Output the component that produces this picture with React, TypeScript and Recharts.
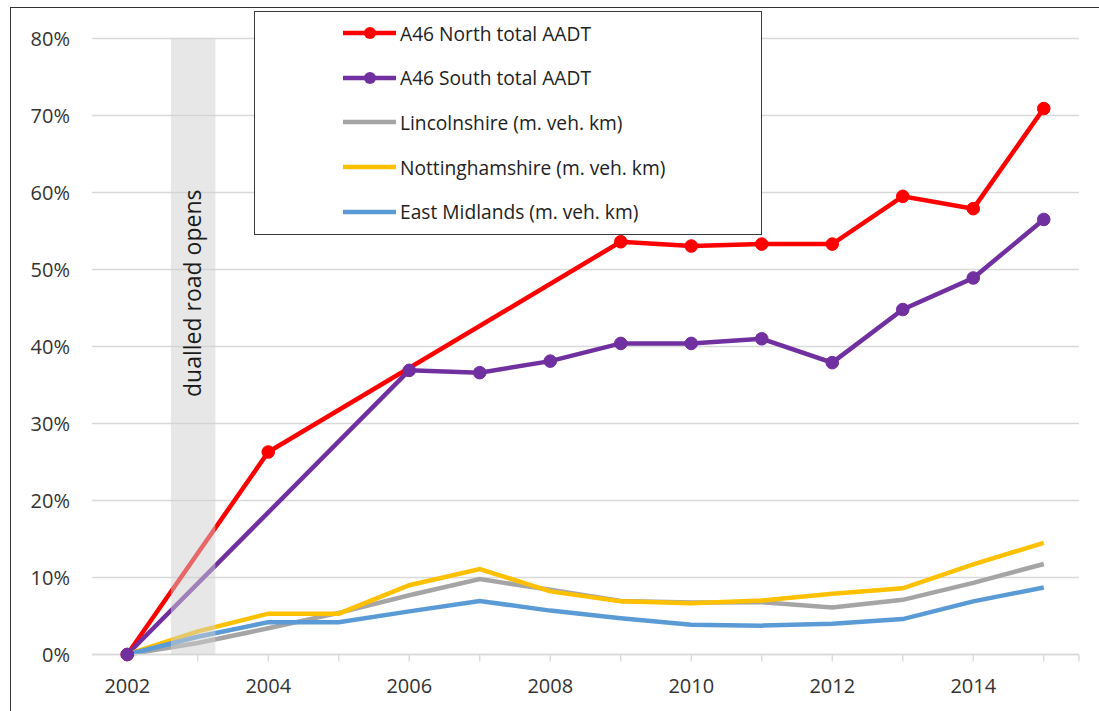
import React from 'react';
import { LineChart, Line, XAxis, YAxis, CartesianGrid, ReferenceArea, Legend } from 'recharts';

const years = [2002, 2003, 2004, 2005, 2006, 2007, 2008, 2009, 2010, 2011, 2012, 2013, 2014, 2015];
const a46North: (number | null)[] = [0, null, 26.3, null, null, null, null, 53.6, 53.05, 53.3, 53.3, 59.5, 57.9, 70.9];
const a46South: (number | null)[] = [0, null, null, null, 36.9, 36.6, 38.1, 40.4, 40.4, 41.0, 37.9, 44.8, 48.9, 56.5];
const lincolnshire = [0, 1.5, 3.4, 5.4, 7.7, 9.8, 8.4, 6.95, 6.75, 6.8, 6.1, 7.1, 9.3, 11.75];
const nottinghamshire = [0, 3.0, 5.3, 5.3, 9.0, 11.1, 8.2, 6.9, 6.65, 7.0, 7.9, 8.6, 11.7, 14.5];
const eastMidlands = [0, 2.3, 4.2, 4.2, 5.6, 6.95, 5.7, 4.7, 3.85, 3.75, 4.0, 4.6, 6.9, 8.7];

const yTicks = [0, 10, 20, 30, 40, 50, 60, 70, 80];
const xTicks = [2002, 2003, 2004, 2005, 2006, 2007, 2008, 2009, 2010, 2011, 2012, 2013, 2014, 2015, 2015.5];
const bandStart = 2002.62;
const bandEnd = 2003.25;
const bandText = 'dualled road opens';

const series = [
  { key: 'north', name: 'A46 North total AADT', color: '#FF0000', values: a46North, marker: true },
  { key: 'south', name: 'A46 South total AADT', color: '#7030A0', values: a46South, marker: true },
  { key: 'linc', name: 'Lincolnshire (m. veh. km)', color: '#A5A5A5', values: lincolnshire, marker: false },
  { key: 'notts', name: 'Nottinghamshire (m. veh. km)', color: '#FFC000', values: nottinghamshire, marker: false },
  { key: 'em', name: 'East Midlands (m. veh. km)', color: '#5B9BD5', values: eastMidlands, marker: false },
];

const data = years.map((year, i) => {
  const row: Record<string, number | null> = { year };
  series.forEach((s) => {
    row[s.key] = s.values[i];
  });
  return row;
});

const FONT = '"Open Sans", "DejaVu Sans", sans-serif';

function BandLabel(props: any) {
  const vb = props.viewBox || {};
  const cx = (vb.x || 0) + (vb.width || 0) / 2 - 1.5;
  const top = (vb.y || 0) + 151;
  return (
    <text
      x={cx}
      y={top}
      transform={`rotate(-90 ${cx} ${top})`}
      textAnchor="end"
      dominantBaseline="central"
      fontFamily={FONT}
      fontSize={23}
      fill="#1a1a1a"
    >
      {bandText}
    </text>
  );
}

function LegendBox() {
  return (
    <div
      style={{
        width: '100%',
        height: '100%',
        boxSizing: 'border-box',
        border: '1.3px solid #3a3a3a',
        background: '#fff',
        fontFamily: FONT,
        fontSize: 19.2,
        color: '#222',
        position: 'relative',
      }}
    >
      {series.map((s, i) => (
        <div
          key={s.key}
          style={{
            position: 'absolute',
            left: 88,
            top: 21 + i * 44.7 - 14,
            height: 28,
            display: 'flex',
            alignItems: 'center',
            whiteSpace: 'nowrap',
          }}
        >
          <svg width={54} height={14} style={{ marginRight: 3 }}>
            <line x1={0} y1={7} x2={53} y2={7} stroke={s.color} strokeWidth={4.5} />
            {s.marker && <circle cx={27} cy={7} r={6} fill={s.color} />}
          </svg>
          <span>{s.name}</span>
        </div>
      ))}
    </div>
  );
}

export default function App() {
  return (
    <div style={{ position: 'absolute', left: 0, top: 0, width: 1099, height: 711, background: '#fff', overflow: 'hidden' }}>
      <div
        style={{
          position: 'absolute',
          left: 10,
          top: 7,
          width: 1200,
          height: 800,
          borderTop: '1.3px solid #333',
          borderLeft: '1.3px solid #333',
        }}
      />
      <div style={{ position: 'absolute', left: 0, top: 0 }}>
        <LineChart width={1099} height={711} data={data} margin={{ top: 38.5, right: 20, left: 12, bottom: 16.5 }}>
          <CartesianGrid vertical={false} stroke="#d9d9d9" strokeWidth={1.3} />
          <XAxis
            type="number"
            dataKey="year"
            domain={[2001.5, 2015.5]}
            ticks={xTicks}
            interval={0}
            allowDecimals
            tickFormatter={(v: number) => (Number.isInteger(v) && v % 2 === 0 ? String(v) : '')}
            height={40}
            axisLine={{ stroke: '#d9d9d9', strokeWidth: 1.3 }}
            tickLine={{ stroke: '#d9d9d9', strokeWidth: 1.3 }}
            tickSize={7}
            tickMargin={17}
            tick={{ fontFamily: FONT, fontSize: 20, fill: '#333' }}
          />
          <YAxis
            type="number"
            domain={[0, 80]}
            ticks={yTicks}
            interval={0}
            width={80}
            axisLine={false}
            tickLine={false}
            tickSize={0}
            tickMargin={22}
            tickFormatter={(v: number) => `${v}%`}
            tick={{ fontFamily: FONT, fontSize: 20, fill: '#333' }}
          />
          {series.map((s) => (
            <Line
              key={s.key}
              type="linear"
              dataKey={s.key}
              name={s.name}
              stroke={s.color}
              strokeWidth={4.5}
              connectNulls
              dot={s.marker ? { r: 6.3, fill: s.color, stroke: s.color, strokeWidth: 1 } : false}
              activeDot={false}
              isAnimationActive={false}
            />
          ))}
          <ReferenceArea
            x1={bandStart}
            x2={bandEnd}
            y1={0}
            y2={80}
            fill="#d0d0d0"
            fillOpacity={0.5}
            stroke="none"
            ifOverflow="visible"
            zIndex={500}
            label={<BandLabel />}
          />
          <Legend
            layout="horizontal"
            verticalAlign="middle"
            align="center"
            content={() => <LegendBox />}
            wrapperStyle={{ position: 'absolute', left: 254, top: 11, width: 508, height: 224, margin: 0, padding: 0 }}
          />
        </LineChart>
      </div>
    </div>
  );
}
